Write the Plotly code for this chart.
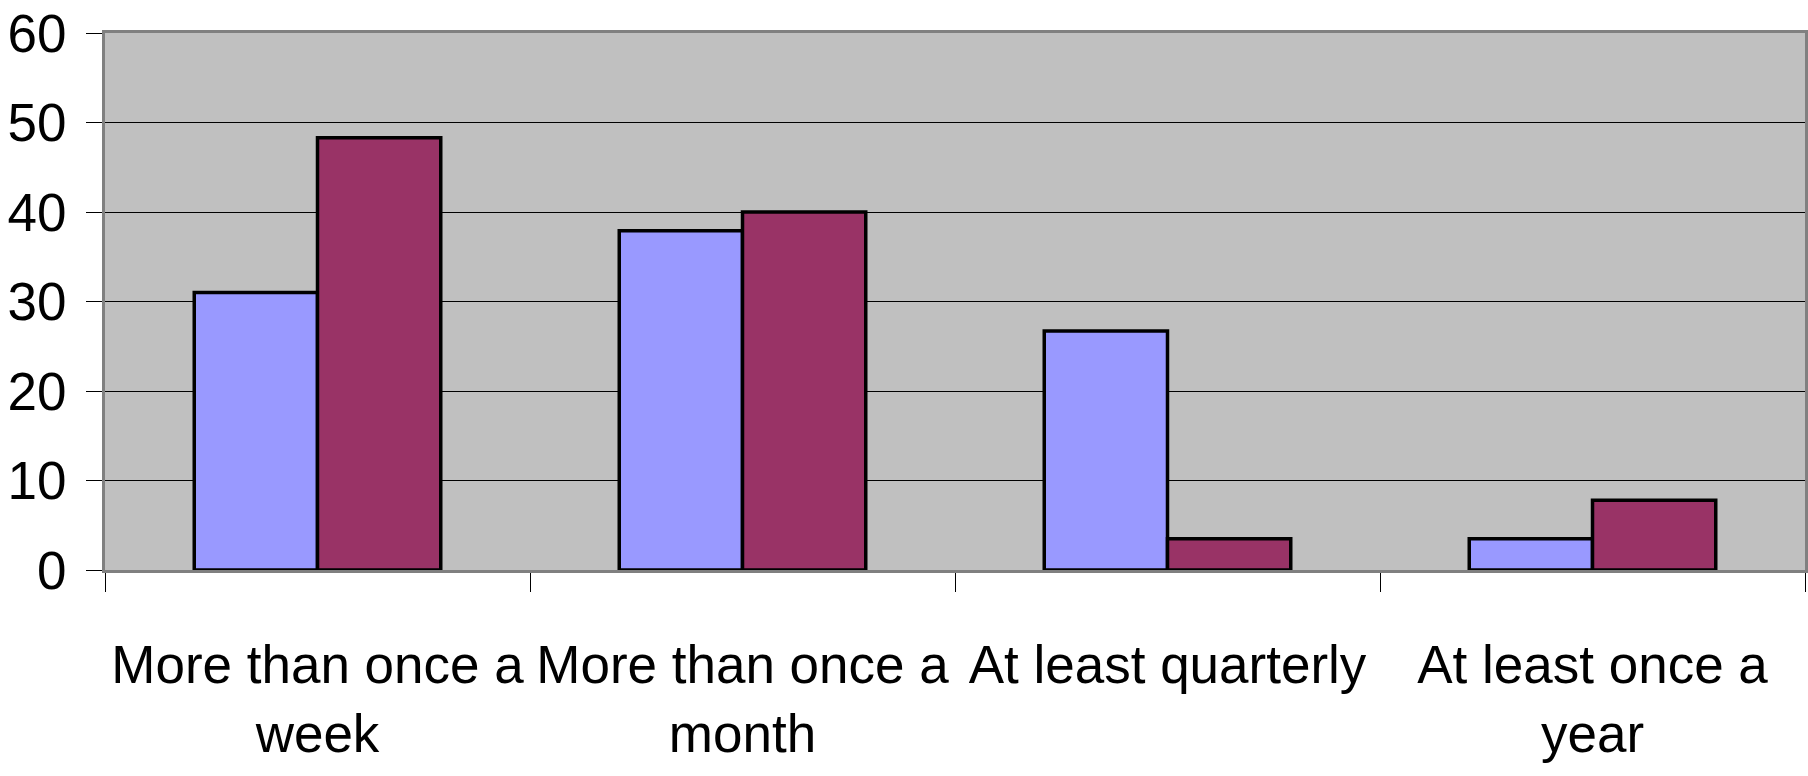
import plotly.graph_objects as go

# Frequency categories (two-line labels where the text wraps)
categories = [
    "More than once a<br>week",
    "More than once a<br>month",
    "At least quarterly",
    "At least once a<br>year",
]
series_a = [31.0, 37.9, 26.7, 3.5]
series_b = [48.3, 40.0, 3.5, 7.8]
y_ticks = [0, 10, 20, 30, 40, 50, 60]

FONT = "Liberation Sans, Arial, sans-serif"

fig = go.Figure()
fig.add_trace(go.Bar(
    x=categories, y=series_a, name="A",
    marker=dict(color="#9999FF", line=dict(color="#000000", width=3.5)),
))
fig.add_trace(go.Bar(
    x=categories, y=series_b, name="B",
    marker=dict(color="#993366", line=dict(color="#000000", width=3.5)),
))

fig.update_layout(
    width=1808, height=776,
    margin=dict(l=105, r=3, t=33, b=206),
    paper_bgcolor="#FFFFFF",
    plot_bgcolor="#C0C0C0",
    barmode="group",
    bargap=0.42,
    bargroupgap=0,
    showlegend=False,
    font=dict(family=FONT, color="#000000"),
)

fig.update_xaxes(
    type="category",
    automargin=False,
    tickangle=0,
    showline=True, linecolor="#808080", linewidth=3, mirror=True,
    ticks="outside", tickson="boundaries", ticklen=19, tickcolor="#000000", tickwidth=1,
    tickfont=dict(family=FONT, size=53, color="#000000"),
    ticklabelstandoff=46,
    showgrid=False,
)
fig.update_yaxes(
    range=[0, 60],
    automargin=False,
    tickvals=y_ticks,
    showline=True, linecolor="#808080", linewidth=3, mirror=True,
    ticks="outside", ticklen=16, tickcolor="#000000", tickwidth=1,
    tickfont=dict(family=FONT, size=53, color="#000000"),
    ticklabelstandoff=9,
    showgrid=True, gridcolor="#000000", gridwidth=1,
    zeroline=False,
)

fig.write_html("out.html")
